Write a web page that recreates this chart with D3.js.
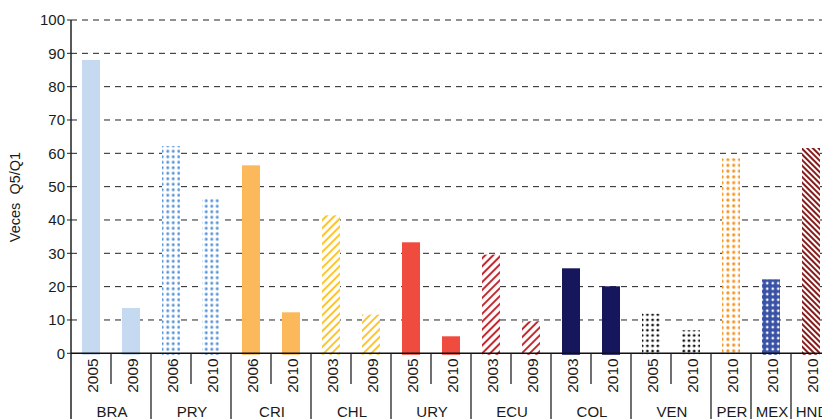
<!DOCTYPE html>
<html>
<head>
<meta charset="utf-8">
<script src="https://cdn.jsdelivr.net/npm/d3@7"></script>
<style>
html,body{margin:0;padding:0;background:#fff;overflow:hidden;}
svg{display:block;font-family:"Liberation Sans",Arial,sans-serif;}
</style>
</head>
<body>
<svg id="chart" width="822" height="419"></svg>
<script>
// ---- data ----
const countries = ["BRA","BRA","PRY","PRY","CRI","CRI","CHL","CHL","URY","URY","ECU","ECU","COL","COL","VEN","VEN","PER","MEX","HND"];
const years     = ["2005","2009","2006","2010","2006","2010","2003","2009","2005","2010","2003","2009","2003","2010","2005","2010","2010","2010","2010"];
const values    = [88.0,13.6,62.2,46.8,56.4,12.3,41.4,11.6,33.3,5.1,29.6,9.6,25.5,20.1,11.9,6.9,58.5,22.2,61.6];
const groupOrder = ["BRA","PRY","CRI","CHL","URY","ECU","COL","VEN","PER","MEX","HND"];
const yTicks = [0,10,20,30,40,50,60,70,80,90,100];
const yLabel = "Veces  Q5/Q1";

const W = 822, H = 419;
const svg = d3.select("#chart");
const x0 = 71, bandW = 40;
const x = d3.scaleBand().domain(d3.range(countries.length)).range([x0, x0 + bandW * countries.length]).paddingInner(0).paddingOuter(0);
const y = d3.scaleLinear().domain([0,100]).range([353.3, 20]);

// ---- patterns ----
const defs = svg.append("defs");
function dots(id, bg, fg, size, r){
  const p = defs.append("pattern").attr("id", id).attr("patternUnits","userSpaceOnUse")
    .attr("width", size).attr("height", size);
  p.append("rect").attr("width", size).attr("height", size).attr("fill", bg);
  p.append("circle").attr("cx", size/2).attr("cy", size/2).attr("r", r).attr("fill", fg);
}
function hatch(id, color, angle, gap, w){
  const p = defs.append("pattern").attr("id", id).attr("patternUnits","userSpaceOnUse")
    .attr("width", gap).attr("height", gap).attr("patternTransform", `rotate(${angle})`);
  p.append("rect").attr("width", gap).attr("height", gap).attr("fill", "#fff");
  p.append("line").attr("x1", gap/2).attr("y1", 0).attr("x2", gap/2).attr("y2", gap)
    .attr("stroke", color).attr("stroke-width", w);
}
dots("pPRY", "#fff", "#5b95d9", 5.5, 1.5);
hatch("pCHL", "#fdc52a", 45, 5.6, 2);
hatch("pECU", "#c1272d", 45, 5.6, 2);
dots("pVEN", "#fff", "#111", 5.2, 1.4);
dots("pPER", "#fff", "#f7941d", 5.8, 1.6);
dots("pMEX", "#3a52a5", "#fff", 5.5, 1.3);
hatch("pHND", "#861c1c", -45, 4, 2);

const fills = {BRA:"#c5d9f1", PRY:"url(#pPRY)", CRI:"#fbb95c", CHL:"url(#pCHL)", URY:"#ef4b3f",
  ECU:"url(#pECU)", COL:"#15165c", VEN:"url(#pVEN)", PER:"url(#pPER)", MEX:"url(#pMEX)", HND:"url(#pHND)"};

// ---- gridlines ----
svg.append("g").selectAll("line").data(yTicks.filter(d => d > 0)).join("line")
  .attr("x1", x0).attr("x2", W + 20)
  .attr("y1", d => y(d)).attr("y2", d => y(d))
  .attr("stroke", "#222").attr("stroke-width", 1).attr("stroke-dasharray", "6,5");

// ---- bars ----
const bw = 18;
svg.append("g").selectAll("rect").data(values).join("rect")
  .attr("x", (d,i) => x(i) + (bandW - bw)/2)
  .attr("width", bw)
  .attr("y", d => y(d))
  .attr("height", d => y(0) - y(d) + 1.5)
  .attr("fill", (d,i) => fills[countries[i]]);

// ---- y axis ----
const yAxis = svg.append("g");
yAxis.append("line").attr("x1", x0).attr("x2", x0).attr("y1", y(100)).attr("y2", H)
  .attr("stroke", "#222").attr("stroke-width", 1.5);
yAxis.selectAll("line.t").data(yTicks).join("line").attr("class","t")
  .attr("x1", x0 - 4).attr("x2", x0).attr("y1", d => y(d)).attr("y2", d => y(d))
  .attr("stroke", "#222").attr("stroke-width", 1);
yAxis.selectAll("text").data(yTicks).join("text")
  .attr("x", x0 - 6).attr("y", d => y(d)).attr("dy", "0.35em")
  .attr("text-anchor", "end").attr("font-size", 15).attr("fill", "#1a1a1a")
  .text(d => d);

svg.append("text").attr("transform", "translate(20,197) rotate(-90)")
  .attr("text-anchor", "middle").attr("font-size", 14.5).attr("fill", "#1a1a1a")
  .attr("xml:space","preserve").style("white-space","pre")
  .text(yLabel);

// ---- x axis ----
svg.append("line").attr("x1", x0).attr("x2", W + 20).attr("y1", y(0)).attr("y2", y(0))
  .attr("stroke", "#111").attr("stroke-width", 1.5);

// year labels
svg.append("g").selectAll("text").data(years).join("text")
  .attr("transform", (d,i) => `translate(${x(i) + bandW/2 + 1},${y(0) + 5}) rotate(-90)`)
  .attr("text-anchor", "end").attr("dy", "0.36em")
  .attr("font-size", 15.5).attr("fill", "#1a1a1a")
  .text(d => d);

// separators
const groups = groupOrder.map(g => {
  const idx = countries.map((c,i) => c === g ? i : -1).filter(i => i >= 0);
  return {name: g, start: idx[0], end: idx[idx.length - 1]};
});
const sep = svg.append("g").attr("stroke", "#222").attr("stroke-width", 1.3);
groups.forEach(g => {
  const right = x(g.end) + bandW;
  sep.append("line").attr("x1", right).attr("x2", right).attr("y1", y(0)).attr("y2", H);
  for (let i = g.start + 1; i <= g.end; i++) {
    sep.append("line").attr("x1", x(i)).attr("x2", x(i)).attr("y1", y(0)).attr("y2", 384);
  }
});

// group labels
svg.append("g").selectAll("text").data(groups).join("text")
  .attr("x", g => (x(g.start) + x(g.end) + bandW) / 2 + 1)
  .attr("y", 416.5)
  .attr("text-anchor", "middle").attr("font-size", 15).attr("fill", "#1a1a1a")
  .text(g => g.name);
</script>
</body>
</html>
